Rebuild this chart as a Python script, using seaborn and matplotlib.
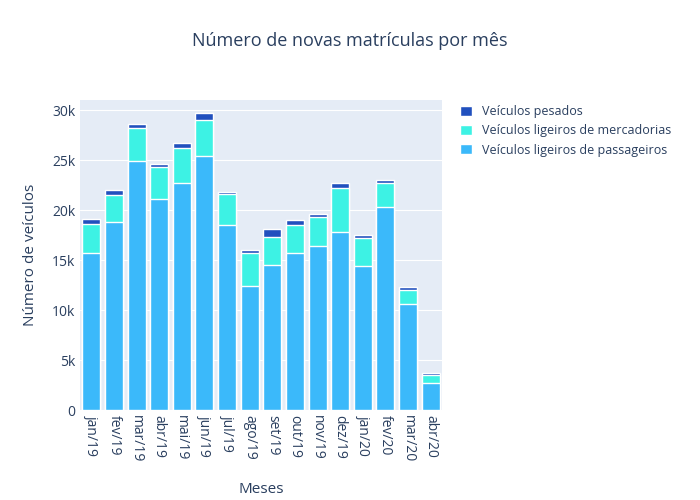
import numpy as np
import pandas as pd
import matplotlib
matplotlib.use("Agg")
import matplotlib.pyplot as plt
import seaborn as sns

meses = ["jan/19", "fev/19", "mar/19", "abr/19", "mai/19", "jun/19", "jul/19", "ago/19",
         "set/19", "out/19", "nov/19", "dez/19", "jan/20", "fev/20", "mar/20", "abr/20"]
passageiros = [15660, 18800, 24900, 21100, 22700, 25400, 18500, 12400,
               14500, 15700, 16400, 17800, 14400, 20300, 10600, 2700]
mercadorias = [2940, 2700, 3300, 3200, 3500, 3600, 3100, 3300,
               2800, 2800, 2900, 4400, 2800, 2400, 1400, 800]
pesados = [500, 500, 400, 300, 500, 700, 200, 300,
           800, 500, 300, 500, 300, 300, 300, 200]

df = pd.DataFrame({"mes": meses, "pass": passageiros, "merc": mercadorias, "pes": pesados})
df["lvl2"] = df["pass"] + df["merc"]
df["lvl3"] = df["lvl2"] + df["pes"]

sns.set_style("darkgrid", {"axes.facecolor": "#E5ECF6", "grid.color": "white"})
plt.rcParams["font.family"] = ["Open Sans", "DejaVu Sans"]

fig = plt.figure(figsize=(7, 5), dpi=100)
ax = fig.add_axes([80 / 700, 90 / 500, 362 / 700, 310 / 500])

c_pes, c_merc, c_pass = "#2150BE", "#3DF2E4", "#3BB9FA"
sns.barplot(data=df, x="mes", y="lvl3", color=c_pes, ax=ax, width=0.8, saturation=1, label="Veículos pesados")
sns.barplot(data=df, x="mes", y="lvl2", color=c_merc, ax=ax, width=0.8, saturation=1, label="Veículos ligeiros de mercadorias")
sns.barplot(data=df, x="mes", y="pass", color=c_pass, ax=ax, width=0.8, saturation=1, label="Veículos ligeiros de passageiros")

ax.set_ylim(0, 31000)
ax.set_xlim(-0.5, len(meses) - 0.5)
ax.set_yticks([0, 5000, 10000, 15000, 20000, 25000, 30000])
ax.set_yticklabels(["0", "5k", "10k", "15k", "20k", "25k", "30k"])
ax.grid(axis="x", visible=False)
for s in ax.spines.values():
    s.set_visible(False)
tc = "#2A3F5F"
ax.tick_params(axis="both", colors=tc, labelsize=10, length=0)
ax.tick_params(axis="x", rotation=-90)
ax.set_xlabel("Meses", color=tc, fontsize=11, labelpad=14)
ax.set_ylabel("Número de veículos", color=tc, fontsize=11, labelpad=10)
fig.suptitle("Número de novas matrículas por mês", x=0.5, y=0.935, color=tc, fontsize=13)

ax.legend(loc="upper left", bbox_to_anchor=(1.02, 1.02), frameon=False,
          handlelength=0.9, handleheight=0.9, fontsize=9, labelcolor=tc)

fig.savefig("out.png", dpi=100)
